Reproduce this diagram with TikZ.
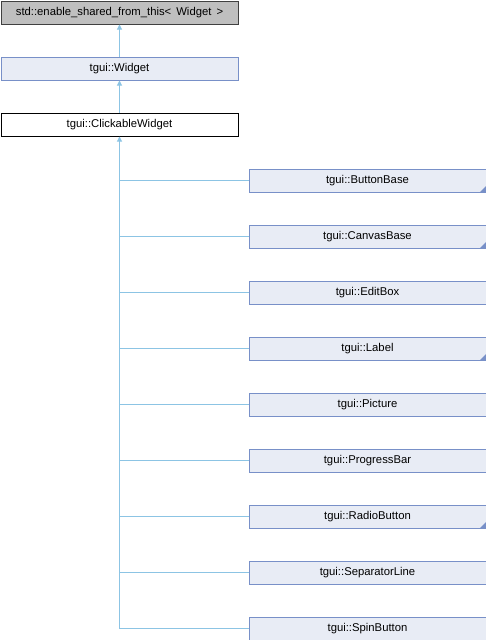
\documentclass[tikz,border=0pt]{standalone}
\usepackage{fontspec}
\setmainfont{Liberation Sans}
\usetikzlibrary{arrows.meta}
\definecolor{edgeblue}{HTML}{8CC4E4}
\definecolor{boxfill}{HTML}{E8ECF5}
\definecolor{boxline}{HTML}{7890C8}
\definecolor{extfill}{HTML}{BFBFBF}
\begin{document}
\begin{tikzpicture}[x=1pt,y=-1pt,
  cls/.style={draw=boxline, fill=boxfill, line width=1pt, minimum width=237pt, minimum height=23pt, inner sep=0pt, anchor=north west, font=\fontsize{11.3}{13}\selectfont},
  extcls/.style={cls, draw=black!75, fill=extfill},
  curcls/.style={cls, draw=black, fill=white},
  inherit/.style={draw=edgeblue, line width=1pt, -{Triangle[length=5pt,width=5pt]}},
  branch/.style={draw=edgeblue, line width=1pt}]
\useasboundingbox (0,0) rectangle (486,640);
\node[extcls] (base) at (0.5,0.5) {std::enable\_shared\_from\_this<\, Widget \,>};
\node[cls] (widget) at (0.5,56.5) {tgui::Widget};
\node[curcls] (click) at (0.5,112.5) {tgui::ClickableWidget};
\foreach \name/\txt/\yy in {bb/ButtonBase/168, cb/CanvasBase/224, eb/EditBox/280, lb/Label/336, pic/Picture/392, pb/ProgressBar/448, rb/RadioButton/504, sl/SeparatorLine/560, sb/SpinButton/616}
  \node[cls] (\name) at (248.5,\yy.5) {tgui::\txt};
% corner marks on classes with further derived classes
\foreach \name in {bb, cb, lb, rb}
  \fill[boxline] ([xshift=-0.5pt,yshift=0.5pt]\name.south east) -- ++(0,-6) -- ++(-6,6) -- cycle;
\draw[inherit] (widget.north) -- (base.south);
\draw[inherit] (click.north) -- (widget.south);
\coordinate (trunk) at ([yshift=-0.5pt]click.south |- sb.west);
\draw[inherit] (trunk) -- (click.south);
\foreach \name in {bb, cb, eb, lb, pic, pb, rb, sl, sb}
  \draw[branch] (\name.west) -- (\name.west -| click.south);
\end{tikzpicture}
\end{document}
